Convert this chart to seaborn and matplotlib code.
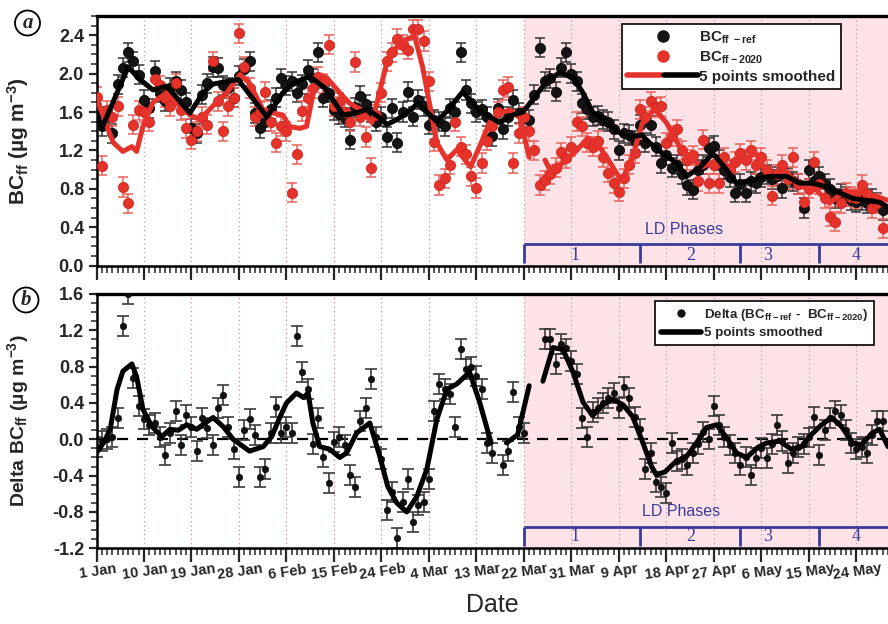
import numpy as np
import pandas as pd
import matplotlib
matplotlib.use("Agg")
import matplotlib.pyplot as plt
import matplotlib.transforms as mtransforms
import seaborn as sns
from matplotlib.lines import Line2D
from matplotlib.legend_handler import HandlerTuple
from matplotlib.ticker import MultipleLocator, FormatStrFormatter

sns.set_theme(style="ticks")
plt.rcParams["font.family"] = ["Liberation Sans", "DejaVu Sans"]
plt.rcParams["mathtext.fontset"] = "custom"
plt.rcParams["mathtext.rm"] = "Liberation Sans"
plt.rcParams["mathtext.bf"] = "Liberation Sans:bold"
plt.rcParams["mathtext.it"] = "Liberation Sans:italic"
plt.rcParams["axes.unicode_minus"] = False

nan = np.nan
# ---------------- data (day index 0 = 1 Jan) ----------------
days = np.arange(150)

bc_ref = [1.58,1.45,1.55,1.38,1.89,2.06,2.22,2.13,1.99,1.73,
          1.64,2.03,1.80,1.71,1.85,1.92,1.83,1.70,1.43,1.38,
          1.78,1.90,2.07,2.06,1.88,1.85,1.75,1.98,2.05,2.13,
          1.59,1.43,1.50,1.63,1.75,1.95,1.88,1.92,1.80,1.89,
          2.04,1.95,2.22,1.75,1.80,1.62,1.58,1.54,1.31,1.65,
          1.77,1.68,1.60,1.50,1.55,1.34,1.64,1.28,1.60,1.81,
          1.55,1.73,1.66,1.47,1.52,1.50,1.45,1.64,1.60,2.22,
          1.83,1.69,1.60,1.63,1.55,1.35,1.64,1.42,1.55,1.73,
          1.59,1.54,1.52,1.78,2.27,1.92,1.95,1.81,2.06,2.22,
          2.00,1.92,1.69,1.63,1.55,1.56,1.52,1.50,1.42,1.20,
          1.38,1.36,1.30,1.47,1.28,1.46,1.24,1.07,1.15,1.02,
          1.05,0.95,0.84,0.79,1.00,1.05,1.23,1.25,1.10,1.00,
          0.92,0.76,0.85,0.76,0.88,0.86,0.92,0.95,0.90,0.93,
          0.81,0.92,0.88,0.85,0.60,1.00,0.88,0.93,0.85,0.80,
          0.70,0.75,0.72,0.68,0.66,0.68,0.65,0.70,0.66,0.58]

bc_2020 = [1.76,1.04,1.62,1.55,1.66,0.82,0.65,1.47,1.62,1.60,
           1.50,1.94,1.88,1.75,1.66,1.90,1.62,1.43,1.31,1.40,
           1.55,1.47,2.13,1.71,1.40,1.66,1.75,2.42,2.07,1.85,
           1.55,1.60,1.81,1.50,1.28,1.45,1.40,0.76,1.16,1.61,
           1.75,1.85,1.97,1.90,2.30,1.66,1.70,1.60,1.50,2.12,
           1.55,1.34,1.02,1.57,1.80,2.13,2.22,2.36,2.30,2.25,
           2.46,2.46,2.34,1.92,1.29,0.84,0.91,1.05,1.50,1.24,
           1.16,0.93,0.81,1.07,1.30,1.45,1.60,1.83,1.86,1.07,
           1.38,1.55,1.40,1.20,0.84,0.89,0.95,1.02,1.18,1.12,
           1.24,1.50,1.45,1.28,1.24,1.30,1.13,0.97,0.86,0.77,
           0.91,1.05,1.17,1.63,1.55,1.71,1.65,1.66,1.28,1.35,
           1.42,1.20,1.10,1.15,0.88,1.31,0.86,1.05,0.86,1.13,
           1.00,1.08,1.17,1.10,1.20,1.05,1.13,1.00,0.73,0.95,
           1.05,0.90,1.13,0.85,0.66,0.80,1.08,0.85,0.70,0.51,
           0.46,0.65,0.76,0.72,0.70,0.84,0.75,0.60,0.65,0.39]

delta = [-0.08,-0.02,0.00,0.03,0.23,1.25,1.60,0.67,0.37,0.22,
         0.16,0.18,0.03,-0.17,0.07,0.31,-0.06,0.27,0.14,-0.13,
         0.24,0.12,-0.06,0.35,0.49,0.14,-0.11,-0.42,0.10,0.22,
         0.05,-0.41,-0.33,0.07,0.36,0.07,0.14,0.07,1.14,0.74,
         0.55,-0.05,0.24,-0.20,-0.48,-0.03,0.03,-0.06,-0.39,-0.52,
         0.20,0.35,0.66,0.03,-0.22,-0.78,-0.58,-1.09,-0.69,-0.44,
         -0.91,-0.72,-0.69,-0.44,0.31,0.61,0.55,0.50,0.14,0.99,
         0.77,0.80,0.70,0.55,-0.04,-0.15,nan,-0.28,-0.13,0.52,
         0.14,0.07,nan,nan,nan,1.10,1.10,0.83,1.05,1.00,
         0.86,0.72,0.24,0.03,0.30,0.35,0.40,0.45,0.51,0.35,
         0.58,0.46,0.25,0.11,-0.33,-0.15,-0.47,-0.52,-0.59,-0.04,
         -0.24,-0.22,-0.28,-0.15,-0.05,0.08,0.00,0.37,0.16,0.03,
         -0.06,-0.15,-0.28,-0.19,-0.39,-0.21,-0.10,-0.21,-0.05,0.16,
         -0.02,-0.26,-0.15,-0.08,-0.05,0.02,0.25,-0.17,0.10,0.24,
         0.31,0.27,0.10,-0.04,-0.11,-0.08,-0.15,0.05,0.20,0.20]

err_bc = 0.10
err_delta = 0.11

# 5-point smoothed curves (nan = gap)
ref_sm_day = [0,1,6,8,10.7,13.3,17.7,20.2,22,26.8,32.3,35.3,37.2,40.4,43.3,44.8,46.7,49.3,51.2,
              53.7,55,56.9,58.8,60.9,63.2,64.5,66.4,69.4,71.3,73.2,76.4,78.9,80.8,82.7,85.3,87.8,
              90.3,92.2,94,96.7,98.6,101,103.3,104.8,107.3,109.9,111.8,114.3,116.8,119.4,121.3,
              124.3,127.5,130.8,133.2,135.7,138.4,140.8,143.3,145.9,148.4,150]
ref_sm_val = [1.59,1.43,2.07,1.95,1.83,1.87,1.59,1.80,1.89,1.94,1.55,1.80,1.90,1.97,1.85,1.73,1.57,1.59,1.63,
              1.54,1.47,1.52,1.59,1.69,1.57,1.50,1.61,1.81,1.69,1.59,1.49,1.57,1.60,1.73,1.92,2.01,
              1.96,1.80,1.60,1.50,1.40,1.34,1.36,1.28,1.17,1.07,0.93,1.02,1.17,1.00,0.86,
              0.89,0.93,0.93,0.86,0.86,0.82,0.76,0.70,0.68,0.66,0.61]

y20_sm_day = [0,2,3.2,5,6.7,7.6,8.8,10.7,13.3,15.8,17.7,19.6,22,24.7,27.2,29,31.5,33.4,35.3,36.6,38.5,
              39.8,41.8,43.6,46.1,48,49.9,52.2,53.3,55,56.9,58.8,60.3,61.8,63.2,64.5,66.4,68.3,69.4,
              70.9,72.6,74.5,76.4,78.3,80.2,82,83,84.5,85,86.2,88.4,91,93.1,94.8,96.7,99.5,101.4,103.5,
              105.8,108,110.5,113,114.9,117.5,120,122.4,125,127.5,130.8,133.8,136.4,138.9,141.4,144.6,
              147.8,150]
y20_sm_val = [1.75,1.45,1.28,1.19,1.24,1.19,1.45,1.70,1.80,1.66,1.57,1.52,1.66,1.80,1.99,1.90,1.63,1.59,1.57,1.45,1.43,
              1.45,1.99,1.96,1.80,1.69,1.63,1.49,1.73,2.11,2.28,2.36,2.39,2.07,1.66,1.28,1.10,1.21,1.13,
              1.03,1.24,1.49,1.59,1.62,1.55,1.13,nan,nan,1.10,0.97,1.07,1.20,1.33,1.28,1.13,0.88,1.10,1.49,
              1.63,1.49,1.24,1.10,1.03,1.10,1.03,1.10,1.17,0.93,0.97,0.82,0.79,0.65,0.76,0.77,
              0.72,0.68]

dl_sm_day = [0,1.3,2.6,3.9,5,6.7,7.6,8.8,10.5,12.4,13.9,15.5,17.1,19,20.6,22.1,24,25.9,29,31.6,33.2,34.8,
             36,37.9,39.2,40.1,41,42.3,44.2,46.1,47.4,49.3,51.8,53.7,55.2,56.9,58.8,60.7,62.6,64.5,66.4,
             68.3,70.7,72.6,74.8,76,77.7,79.8,82,83,84.6,86.5,88.4,90.3,92.2,94,95.9,97.8,99.8,101.6,103.3,
             105.2,106.1,107.7,109.9,111.8,113.7,115.6,117.5,119.4,121.3,123.2,125.3,127,129.5,131.7,
             133.6,135.1,137.4,139.3,141.2,143.3,145,147,148.4,150]
dl_sm_val = [-0.15,-0.04,0.11,0.55,0.75,0.83,0.69,0.33,0.14,0.03,0.11,0.10,0.16,0.11,0.18,0.24,0.14,0.00,-0.13,-0.08,0.03,0.25,
             0.40,0.51,0.46,0.51,0.18,-0.08,-0.11,-0.20,-0.15,0.07,0.18,-0.19,-0.52,-0.70,-0.80,-0.63,-0.33,0.22,0.55,
             0.61,0.74,0.41,-0.04,nan,-0.04,0.05,0.59,nan,0.64,1.01,0.99,0.74,0.41,0.26,0.38,0.44,0.38,0.25,0.00,
             -0.30,-0.39,-0.36,-0.24,-0.19,-0.04,0.13,0.16,0.02,-0.15,-0.20,-0.09,-0.04,-0.02,-0.11,
             -0.08,0.03,0.16,0.24,0.14,-0.04,-0.06,0.07,0.11,-0.08]

tick_days = [0, 9, 18, 27, 36, 45, 54, 63, 72, 81, 90, 99, 108, 117, 126, 135, 144]
tick_labels = ["1 Jan", "10 Jan", "19 Jan", "28 Jan", "6 Feb", "15 Feb", "24 Feb", "4 Mar",
               "13 Mar", "22 Mar", "31 Mar", "9 Apr", "18 Apr", "27 Apr", "6 May", "15 May", "24 May"]

lockdown_start = 81
phase_starts = [81, 103, 122, 137]
phase_names = ["1", "2", "3", "4"]
phase_label_day = [90.6, 112.6, 127.2, 144.0]

# ---------------- styling ----------------
RED = "#e5322b"
NAVY = "#3a3a9c"
PINK = "#fde3e7"


def segments(dd, vv):
    rows, seg = [], 0
    for d, v in zip(dd, vv):
        if np.isnan(v):
            seg += 1
            continue
        rows.append((d, v, seg))
    return pd.DataFrame(rows, columns=["day", "val", "seg"])


def highlight(ax, x, y, color, s):
    """small specular highlight on top of each sphere marker"""
    pts = ax.scatter(x, y, s=s, color=color, lw=0, zorder=3.5)
    pts.set_transform(ax.transData + mtransforms.ScaledTranslation(-1.4 / 72, 1.4 / 72,
                                                                   ax.figure.dpi_scale_trans))


fig = plt.figure(figsize=(8.88, 6.24), dpi=100)
L = 96.5 / 888
W = (888 - 96.5) / 888
ax1 = fig.add_axes([L, 1 - 265.7 / 624, W, (265.7 - 16) / 624])
ax2 = fig.add_axes([L, 1 - 548.3 / 624, W, (548.3 - 294) / 624])

for ax in (ax1, ax2):
    ax.set_facecolor("white")
    ax.axvspan(lockdown_start, 150, color=PINK, lw=0, zorder=0)
    for d in tick_days[1:]:
        ax.axvline(d, color="#c79a92" if d < lockdown_start else "#a8a8a8",
                   ls=(0, (1, 2.5)), lw=0.9, zorder=0.5)
    ax.set_xlim(0, 150)
    ax.set_xticks(tick_days)
    ax.xaxis.set_minor_locator(MultipleLocator(1))
    ax.yaxis.set_minor_locator(MultipleLocator(0.1))
    ax.yaxis.set_major_formatter(FormatStrFormatter("%.1f"))
    ax.tick_params(axis="x", which="major", direction="out", length=10, width=1.6, pad=2)
    ax.tick_params(axis="x", which="minor", direction="out", length=5, width=1.1)
    ax.tick_params(axis="y", which="major", direction="out", length=6, width=1.6, pad=3,
                   labelsize=13)
    ax.tick_params(axis="y", which="minor", direction="out", length=4, width=1.1)
    for lab in ax.get_yticklabels():
        lab.set_fontweight("bold")
    for side in ("left", "bottom", "top"):
        ax.spines[side].set_linewidth(1.8)
        ax.spines[side].set_color("black")
    ax.spines["right"].set_visible(False)
    ax.spines["top"].set_linewidth(2.4)

# ---------- top panel ----------
ax1.set_ylim(0, 2.6)
ax1.set_yticks(np.arange(0, 2.41, 0.4))
ax1.errorbar(days, bc_ref, yerr=err_bc, fmt="none", ecolor="#333333", elinewidth=1.1,
             capsize=3.5, capthick=1.1, zorder=2)
ax1.errorbar(days, bc_2020, yerr=err_bc, fmt="none", ecolor="#e9605a", elinewidth=1.1,
             capsize=3.5, capthick=1.1, zorder=2)
sns.scatterplot(x=days, y=bc_ref, ax=ax1, color="#141414", s=55, edgecolor="#000000",
                linewidth=0.5, zorder=3, legend=False)
highlight(ax1, days, bc_ref, "#8a8a8a", 6)
sns.scatterplot(x=days, y=bc_2020, ax=ax1, color=RED, s=55, edgecolor="#c42019",
                linewidth=0.5, zorder=3, legend=False)
highlight(ax1, days, bc_2020, "#f7a19b", 6)
sns.lineplot(data=segments(y20_sm_day, y20_sm_val), x="day", y="val", units="seg",
             estimator=None, sort=False, color=RED, lw=3.6, ax=ax1, zorder=4, legend=False)
sns.lineplot(data=segments(ref_sm_day, ref_sm_val), x="day", y="val", units="seg",
             estimator=None, sort=False, color="black", lw=3.6, ax=ax1, zorder=5, legend=False)
ax1.set_xticklabels([])
ax1.set_xlabel("")
ax1.set_ylabel("BC$_{\\mathbf{ff}}$ (µg m$^{\\mathbf{-3}}$)", fontsize=15, fontweight="bold")
ax1.yaxis.set_label_coords(-0.083, 0.5)

h_ref = Line2D([], [], marker="o", ls="none", color="#141414", markersize=8)
h_20 = Line2D([], [], marker="o", ls="none", color=RED, markersize=8)
h_ln = (Line2D([], [], color=RED, lw=4), Line2D([], [], color="black", lw=4))
leg1 = ax1.legend([h_ref, h_20, h_ln],
                  ["BC$_{\\mathbf{ff\\ -ref}}$", "BC$_{\\mathbf{ff-2020}}$", "5 points smoothed"],
                  handler_map={tuple: HandlerTuple(ndivide=None, pad=0.15)},
                  loc="upper left", bbox_to_anchor=(0.664, 0.968), borderaxespad=0,
                  frameon=True, fancybox=False, edgecolor="black", framealpha=1,
                  handlelength=4.6, handletextpad=0.1, labelspacing=0.25,
                  borderpad=0.35, prop=dict(weight="bold", size=11))
leg1.get_frame().set_linewidth(1.2)
leg1.set_zorder(10)

ax1.hlines(0.23, lockdown_start, 150, color=NAVY, lw=2, zorder=6)
ax1.vlines(phase_starts, 0.03, 0.23, color=NAVY, lw=2, zorder=6)
for d, n in zip(phase_label_day, phase_names):
    ax1.text(d, 0.11, n, family="Liberation Serif", fontsize=13, color=NAVY,
             ha="center", va="center", zorder=6)
ax1.text(111.3, 0.38, "LD Phases", fontsize=11.5, color=NAVY, ha="center", va="center", zorder=6)

# ---------- bottom panel ----------
ax2.set_ylim(-1.2, 1.6)
ax2.set_yticks(np.arange(-1.2, 1.61, 0.4))
ax2.axhline(0, color="black", ls=(0, (5, 4)), lw=1.6, zorder=1)
ax2.errorbar(days, delta, yerr=err_delta, fmt="none", ecolor="#3a3a3a", elinewidth=1.2,
             capsize=4.5, capthick=1.2, zorder=2)
sns.scatterplot(x=days, y=delta, ax=ax2, color="#111111", s=22, edgecolor="black",
                linewidth=0.4, zorder=3, legend=False)
sns.lineplot(data=segments(dl_sm_day, dl_sm_val), x="day", y="val", units="seg",
             estimator=None, sort=False, color="black", lw=3.6, ax=ax2, zorder=4, legend=False)
ax2.set_xticklabels(tick_labels, fontsize=10.5, fontweight="bold", rotation=8,
                    rotation_mode="anchor", ha="center", va="top")
ax2.set_xlabel("Date", fontsize=18, labelpad=8)
ax2.set_ylabel("Delta BC$_{\\mathbf{ff}}$ (µg m$^{\\mathbf{-3}}$)", fontsize=14, fontweight="bold")
ax2.yaxis.set_label_coords(-0.083, 0.5)

h_d = Line2D([], [], marker="o", ls="none", color="#111111", markersize=5)
h_dl = Line2D([], [], color="black", lw=4)
leg2 = ax2.legend([h_d, h_dl],
                  ["Delta (BC$_{\\mathbf{ff-ref}}$ -  BC$_{\\mathbf{ff-2020}}$)", "5 points smoothed"],
                  loc="upper left", bbox_to_anchor=(0.706, 0.972), borderaxespad=0,
                  frameon=True, fancybox=False, edgecolor="black", framealpha=1,
                  handlelength=3.0, handletextpad=0.2, labelspacing=0.3,
                  borderpad=0.45, prop=dict(weight="bold", size=9.6))
leg2.get_frame().set_linewidth(1.2)
leg2.set_zorder(10)

ax2.hlines(-0.96, lockdown_start, 150, color=NAVY, lw=2, zorder=6)
ax2.vlines(phase_starts, -1.18, -0.96, color=NAVY, lw=2, zorder=6)
for d, n in zip(phase_label_day, phase_names):
    ax2.text(d, -1.07, n, family="Liberation Serif", fontsize=13, color=NAVY,
             ha="center", va="center", zorder=6)
ax2.text(110.7, -0.79, "LD Phases", fontsize=11.5, color=NAVY, ha="center", va="center", zorder=6)

# panel letters
for txt, (px, py) in zip(["a", "b"], [(27.5, 23), (26, 300)]):
    fig.text(px / 888, 1 - py / 624, txt, family="Liberation Serif", fontsize=15,
             fontweight="bold", fontstyle="italic", ha="center", va="center",
             bbox=dict(boxstyle="circle,pad=0.12", fc="white", ec="black", lw=1.3))

fig.savefig("out.png", dpi=100)
